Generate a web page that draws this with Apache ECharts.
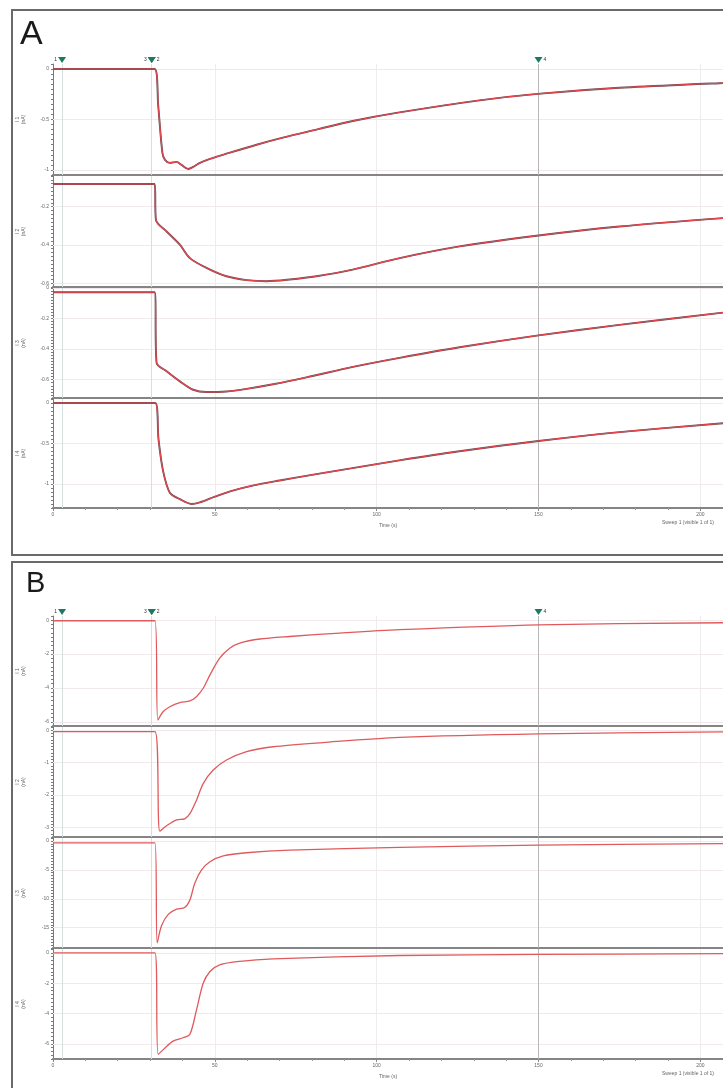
<!DOCTYPE html>
<html><head><meta charset="utf-8">
<script src="https://cdn.jsdelivr.net/npm/echarts@6/dist/echarts.min.js"></script>
<style>html,body{margin:0;padding:0;background:#fff}#c{width:723px;height:1088px}</style>
</head><body><div id="c"></div>
<script>
// ---------- DATA (time in s, current) ----------
const a1T=[0,31.4,32.5,33.8,34.6,36.1,38.2,39.7,41.8,43.3,45.4,48.5,52.5,62.9,71,81.4,92.6,107,131.8,149.7,175,207];
const a1V=[0,0,-0.36,-0.83,-0.90,-0.93,-0.92,-0.95,-0.99,-0.97,-0.93,-0.89,-0.85,-0.75,-0.68,-0.60,-0.515,-0.43,-0.31,-0.246,-0.186,-0.139];
const a2T=[0,31.4,31.8,35.1,39.2,42.3,47.4,53.6,59.8,66.0,73.1,81.4,92.6,107.1,125.6,150,175,207];
const a2V=[-0.082,-0.082,-0.269,-0.33,-0.399,-0.469,-0.52,-0.564,-0.584,-0.59,-0.581,-0.564,-0.529,-0.469,-0.408,-0.351,-0.304,-0.26];
const a3T=[0,31.4,32.0,35.1,39.2,43.3,47.4,53.6,59.8,68.0,78.3,92.7,107.1,125.6,150,175,207];
const a3V=[-0.028,-0.028,-0.49,-0.545,-0.611,-0.666,-0.681,-0.677,-0.660,-0.630,-0.585,-0.516,-0.457,-0.388,-0.31,-0.241,-0.161];
const a4T=[0,31.6,32.6,34.0,36.1,39.2,42.8,45.4,50,55,62,70,80,92,107,125,150,175,207];
const a4V=[0,0,-0.45,-0.84,-1.11,-1.19,-1.25,-1.23,-1.16,-1.09,-1.02,-0.96,-0.89,-0.81,-0.71,-0.60,-0.47,-0.36,-0.25];
const b1T=[0,31.5,32.4,34.0,36.1,39.2,42.3,44.3,46.4,48.5,51.5,54.6,57.7,63.9,73.1,88.6,107.1,150,207];
const b1V=[-0.03,-0.03,-5.9,-5.41,-5.11,-4.87,-4.77,-4.52,-4.02,-3.23,-2.24,-1.65,-1.35,-1.11,-0.96,-0.76,-0.56,-0.27,-0.15];
const b2T=[0,31.5,33.0,35.1,38.2,40.7,42.3,44.3,46.4,49.5,53.6,59.8,68,83.4,107.1,150,207];
const b2V=[-0.04,-0.04,-3.12,-2.95,-2.77,-2.74,-2.58,-2.17,-1.65,-1.23,-0.92,-0.66,-0.51,-0.38,-0.22,-0.11,-0.05];
const b3T=[0,31.5,32.2,33.5,35.6,38.2,40.7,42.3,43.8,45.9,48.5,52.6,59.8,73.1,107.1,150,207];
const b3V=[-0.34,-0.34,-17.6,-14.7,-12.7,-11.8,-11.5,-10.2,-7.3,-5.0,-3.6,-2.6,-2.05,-1.6,-1.13,-0.74,-0.48];
const b4T=[0,31.5,32.5,34.6,37.1,40.2,42.3,44.3,46.4,48.5,51.5,57.7,68,107.1,150,207];
const b4V=[0,0,-6.7,-6.27,-5.82,-5.6,-5.37,-3.8,-2.01,-1.23,-0.79,-0.56,-0.4,-0.18,-0.11,-0.05];

const a1Ticks=[0,-0.5,-1], a2Ticks=[-0.2,-0.4,-0.6], a3Ticks=[0,-0.2,-0.4,-0.6], a4Ticks=[0,-0.5,-1];
const b1Ticks=[0,-2,-4,-6], b2Ticks=[0,-1,-2,-3], b3Ticks=[0,-5,-10,-15], b4Ticks=[0,-2,-4,-6];
const xTicks=[0,50,100,150,200];
const traceNames=['I 1\n(nA)','I 2\n(nA)','I 3\n(nA)','I 4\n(nA)'];
const cursorTimes=[2.8,30.5,30.5,150];
const cursorLabels=['1','3','2','4'];

// ---------- LAYOUT ----------
const X_MAX=207;
const panes=[
 {t:a1T,v:a1V,ticks:a1Ticks,top:64,bottom:175,min:-1.05,max:0.05,iv:0.05,panel:'A',idx:0},
 {t:a2T,v:a2V,ticks:a2Ticks,top:176,bottom:287,min:-0.62,max:-0.04,iv:0.02,panel:'A',idx:1},
 {t:a3T,v:a3V,ticks:a3Ticks,top:288,bottom:398,min:-0.72,max:0,iv:0.02,panel:'A',idx:2},
 {t:a4T,v:a4V,ticks:a4Ticks,top:399,bottom:508,min:-1.3,max:0.05,iv:0.05,panel:'A',idx:3},
 {t:b1T,v:b1V,ticks:b1Ticks,top:616,bottom:726,min:-6.25,max:0.25,iv:0.25,panel:'B',idx:0},
 {t:b2T,v:b2V,ticks:b2Ticks,top:727,bottom:837,min:-3.3,max:0.1,iv:0.1,panel:'B',idx:1},
 {t:b3T,v:b3V,ticks:b3Ticks,top:838,bottom:948,min:-18.5,max:0.5,iv:0.5,panel:'B',idx:2},
 {t:b4T,v:b4V,ticks:b4Ticks,top:949,bottom:1059,min:-7,max:0.25,iv:0.25,panel:'B',idx:3}
];
const FONT='Liberation Sans';
const zip=(t,v)=>t.map((x,i)=>[x,v[i]]);
const fmtTicks=ticks=>val=>{for(const k of ticks){if(Math.abs(val-k)<1e-6)return String(k);}return '';};

const grids=[],xAxes=[],yAxes=[],series=[];
panes.forEach((p,i)=>{
  const isBottom=p.idx===3;
  grids.push({left:53,right:0,top:p.top,height:p.bottom-p.top,outerBoundsMode:'none',containLabel:false});
  xAxes.push({type:'value',gridIndex:i,min:0,max:X_MAX,interval:50,
    axisLine:{show:true,onZero:false,lineStyle:{color:'#858585',width:2}},
    axisTick:{show:isBottom,length:3,lineStyle:{color:'#888'}},
    minorTick:{show:isBottom,splitNumber:5,length:2,lineStyle:{color:'#999'}},
    axisLabel:{show:isBottom,fontSize:5,color:'#666',fontFamily:FONT,margin:4,showMaxLabel:false,
      formatter:v=>xTicks.includes(v)?String(v):''},
    splitLine:{show:true,lineStyle:{color:'#ededed',width:1}},
    name:isBottom?'Time (s)':'',nameLocation:'middle',nameGap:15,
    nameTextStyle:{fontSize:5,color:'#666',fontFamily:FONT}});
  yAxes.push({type:'value',gridIndex:i,min:p.min,max:p.max,interval:p.iv,
    axisLine:{show:true,lineStyle:{color:'#7a7a7a',width:1}},
    axisTick:{show:true,length:2,lineStyle:{color:'#7a7a7a'}},
    axisLabel:{fontSize:5,color:'#666',fontFamily:FONT,margin:4,formatter:fmtTicks(p.ticks)},
    splitLine:{show:false},
    name:traceNames[p.idx],nameLocation:'middle',nameRotate:90,nameGap:26,
    nameTextStyle:{fontSize:5,color:'#666',fontFamily:FONT,lineHeight:6}});
  const data=zip(p.t,p.v);
  const markLineData=[];
  p.ticks.forEach(k=>markLineData.push({yAxis:k,lineStyle:{color:'#f1e9eb',width:1,type:'solid'}}));
  cursorTimes.forEach((c,j)=>{ if(j===2) return;
    markLineData.push({xAxis:c,lineStyle:{color:j===3?'#b8b8b8':'#d6dfdf',width:1,type:'solid'}});});
  if(p.panel==='A'){
    series.push({type:'line',xAxisIndex:i,yAxisIndex:i,data:data,showSymbol:false,smooth:0.3,
      lineStyle:{color:'#6d4a55',width:1.9},z:2,silent:true,
      markLine:{silent:true,symbol:'none',label:{show:false},data:markLineData,z:1}});
    series.push({type:'line',xAxisIndex:i,yAxisIndex:i,data:data,showSymbol:false,smooth:0.3,
      lineStyle:{color:'#e8474c',width:1.1},z:3,silent:true});
  } else {
    series.push({type:'line',xAxisIndex:i,yAxisIndex:i,data:data,showSymbol:false,smooth:0.3,
      lineStyle:{color:'#df5a5c',width:1.3},z:3,silent:true,
      markLine:{silent:true,symbol:'none',label:{show:false},data:markLineData,z:1}});
  }
  if(p.idx===0){
    const mp=cursorTimes.map((c,j)=>({coord:[c,p.max],
      label:{show:true,formatter:cursorLabels[j],position:(j===0||j===1)?'left':'right',distance:1,
        fontSize:5,color:'#333',fontFamily:FONT}}));
    series.push({type:'scatter',xAxisIndex:i,yAxisIndex:i,data:[],silent:true,
      markPoint:{symbol:'triangle',symbolRotate:180,symbolSize:[8,6],symbolOffset:[0,-4],
        itemStyle:{color:'#1d7a62'},data:mp}});
  }
});

const chart=echarts.init(document.getElementById('c'),null,{renderer:'canvas'});
chart.setOption({
  animation:false,backgroundColor:'#fff',
  grid:grids,xAxis:xAxes,yAxis:yAxes,series:series,
  graphic:[
    {type:'rect',shape:{x:12,y:10,width:740,height:545},style:{fill:'none',stroke:'#6a6a6a',lineWidth:2},z:0},
    {type:'rect',shape:{x:12,y:562,width:740,height:540},style:{fill:'none',stroke:'#6a6a6a',lineWidth:2},z:0},
    {type:'text',style:{x:20,y:35,text:'A',fontSize:34,fontFamily:FONT,fill:'#1a1a1a',verticalAlign:'middle'}},
    {type:'text',style:{x:26,y:584,text:'B',fontSize:29,fontFamily:FONT,fill:'#1a1a1a',verticalAlign:'middle'}},
    {type:'text',style:{x:662,y:523,text:'Sweep 1 (visible 1 of 1)',fontSize:5,fontFamily:FONT,fill:'#666',verticalAlign:'middle'}},
    {type:'text',style:{x:662,y:1074,text:'Sweep 1 (visible 1 of 1)',fontSize:5,fontFamily:FONT,fill:'#666',verticalAlign:'middle'}}
  ]
});
</script></body></html>
